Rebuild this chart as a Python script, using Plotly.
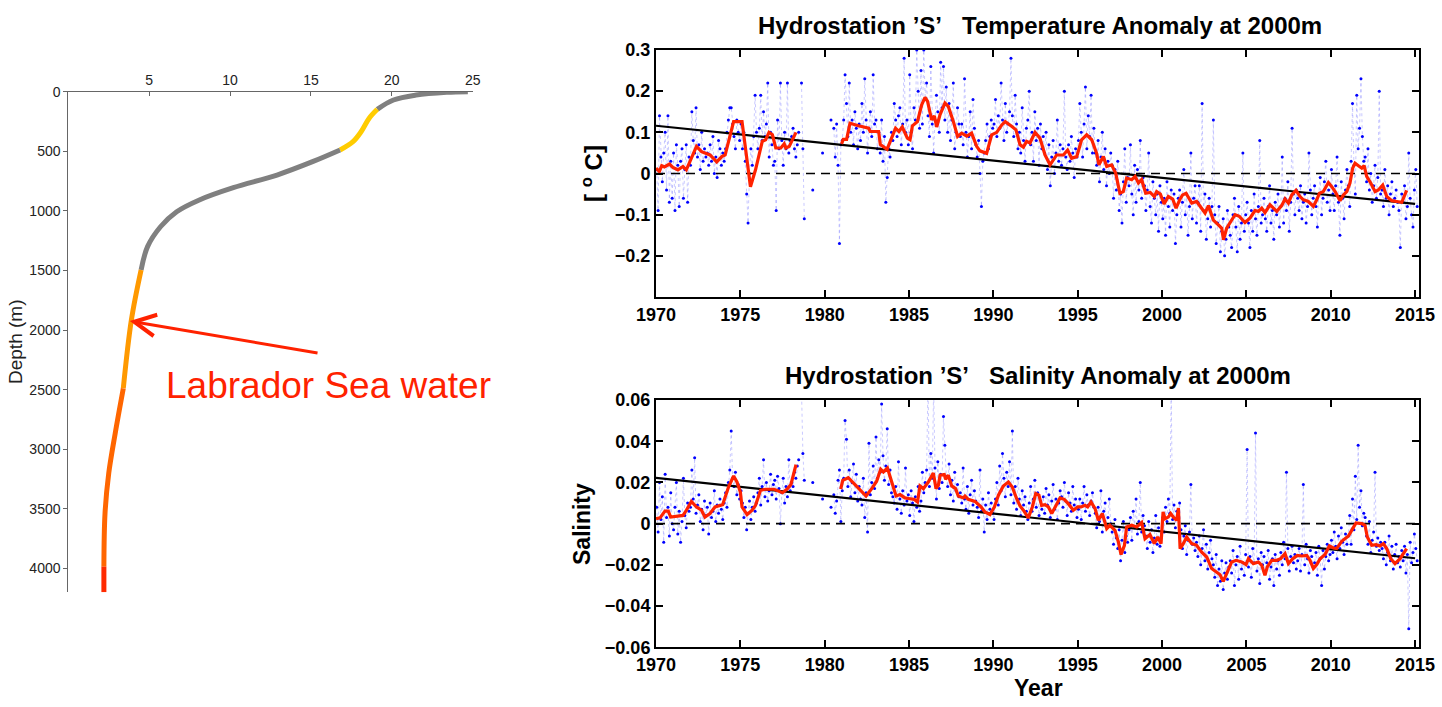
import plotly.graph_objects as go

# ---------------- Left panel: temperature profile ----------------
profile_depth = [0, 5, 28, 70, 148, 223, 336, 419, 489, 587, 699, 805, 908, 1007,
                 1133, 1300, 1496, 1915, 2489, 2866, 3201, 3537, 3985, 4200]
profile_temp = [24.7, 23.4, 21.5, 20.1, 19.1, 18.6, 18.1, 17.6, 16.8, 15.1, 12.9, 10.2,
                8.1, 6.7, 5.7, 4.9, 4.5, 3.9, 3.4, 2.9, 2.5, 2.27, 2.2, 2.2]
segment_bounds = [0, 148, 489, 1496, 2489, 3985, 4200]
segment_colors = ["#808080", "#FFCC00", "#808080", "#FF9900", "#FF6600", "#FF2A00"]
profile_xticks = [5, 10, 15, 20, 25]
profile_yticks = [0, 500, 1000, 1500, 2000, 2500, 3000, 3500, 4000]
arrow_head = (3.8, 1924)
arrow_tail = (15.5, 2195)
label_text = "Labrador Sea water"

# ---------------- Right panels: anomalies at 2000 m ----------------
start_year = 1970
samples_per_year = 12
temp_rows = [
    [0.01, -0.09, 0.14, 0.04, -0.02, 0.05, 0.10, -0.04, 0.14, -0.07, 0.03, -0.06],  # 1970
    [0.05, -0.09, 0.07, 0.02, -0.08, 0.03, 0.06, -0.06, 0.01, 0.07, -0.07, 0.04],
    [0.02, 0.15, 0.08, 0.05, 0.16, 0.04, 0.07, 0.01, 0.10, 0.03, 0.06, 0.04],
    [0.05, 0.02, 0.07, 0.03, 0.09, 0.00, 0.04, -0.01, 0.08, 0.06, 0.02, 0.05],
    [0.03, 0.06, 0.10, 0.13, 0.16, 0.16, 0.12, 0.09, 0.06, 0.13, 0.10, 0.08],
    [0.12, 0.06, 0.10, 0.03, -0.05, -0.12, 0.00, 0.06, 0.02, 0.09, 0.19, 0.10],  # 1975
    [0.06, 0.11, 0.19, 0.08, 0.15, 0.09, 0.12, 0.22, 0.04, 0.10, 0.07, 0.02],
    [0.03, -0.09, 0.13, 0.06, 0.22, 0.08, 0.02, 0.10, 0.06, 0.22, 0.05, 0.08],
    [0.09, 0.11, 0.06, 0.04, 0.07, 0.10, None, 0.22, 0.06, -0.11, None, None],
    [None, None, None, -0.04, None, None, None, None, None, None, 0.05, None],
    [None, None, None, None, 0.13, None, 0.11, 0.04, 0.12, 0.02, -0.17, 0.07],  # 1980
    [0.08, 0.13, 0.24, 0.17, 0.09, 0.22, 0.10, 0.13, 0.07, 0.15, 0.11, 0.06],
    [0.12, 0.08, 0.17, 0.10, 0.23, 0.13, 0.05, 0.11, 0.15, 0.09, 0.24, 0.12],
    [0.13, 0.06, 0.10, 0.05, 0.13, 0.03, 0.09, -0.07, -0.01, 0.06, 0.04, 0.10],
    [0.08, 0.17, 0.13, 0.09, 0.14, 0.16, 0.07, 0.12, 0.28, 0.10, 0.13, 0.07],
    [0.24, 0.10, 0.06, 0.16, 0.13, 0.30, 0.20, 0.11, 0.25, 0.12, 0.30, 0.18],  # 1985
    [0.22, 0.14, 0.09, 0.26, 0.12, 0.05, 0.13, 0.19, 0.15, 0.10, 0.27, 0.16],
    [0.26, 0.13, 0.21, 0.10, 0.17, 0.08, 0.13, 0.22, 0.06, 0.10, 0.16, 0.12],
    [0.09, 0.12, 0.07, 0.23, 0.10, 0.04, 0.09, 0.15, 0.06, 0.18, 0.11, 0.07],
    [0.04, 0.08, 0.00, -0.08, 0.03, 0.05, 0.08, 0.12, 0.06, 0.09, 0.13, 0.11],
    [0.12, 0.18, 0.09, 0.14, 0.11, 0.22, 0.13, 0.08, 0.17, 0.10, 0.12, 0.15],  # 1990
    [0.28, 0.14, 0.09, 0.19, 0.12, 0.06, 0.10, 0.05, 0.16, 0.08, 0.03, 0.11],
    [0.13, 0.20, 0.07, 0.10, 0.03, 0.15, 0.08, 0.11, 0.02, 0.12, 0.06, 0.09],
    [0.05, 0.10, 0.01, 0.07, -0.03, 0.04, 0.08, 0.00, 0.05, 0.13, 0.03, 0.07],
    [0.02, 0.06, 0.20, 0.04, 0.01, 0.07, 0.03, 0.09, 0.05, -0.01, 0.06, 0.04],
    [0.08, 0.17, 0.10, 0.04, 0.12, 0.21, 0.06, 0.14, 0.09, 0.19, 0.05, 0.11],  # 1995
    [0.05, 0.02, 0.08, -0.02, 0.04, 0.10, 0.01, 0.06, -0.03, 0.03, 0.00, 0.05],
    [0.02, -0.06, 0.01, -0.04, 0.03, -0.09, -0.05, -0.12, -0.02, 0.06, -0.07, -0.01],
    [-0.03, 0.07, -0.05, -0.10, 0.02, -0.07, 0.01, -0.04, 0.08, -0.06, -0.01, -0.03],
    [-0.09, -0.04, 0.05, -0.08, -0.12, -0.02, -0.06, -0.10, -0.05, -0.14, -0.03, -0.07],
    [-0.11, -0.06, -0.15, -0.02, -0.08, -0.13, -0.04, -0.09, -0.05, -0.17, -0.10, -0.06],  # 2000
    [-0.04, -0.13, -0.07, 0.01, -0.10, -0.05, -0.15, -0.08, 0.05, -0.11, -0.06, -0.03],
    [-0.12, -0.07, -0.03, -0.14, 0.17, -0.09, -0.05, -0.16, -0.11, -0.06, -0.13, -0.08],
    [0.13, -0.10, -0.17, -0.12, -0.08, -0.19, -0.14, -0.11, -0.20, -0.16, -0.09, -0.13],
    [-0.15, -0.18, -0.10, -0.06, -0.13, -0.19, -0.08, -0.16, -0.12, 0.05, -0.14, -0.10],
    [-0.07, -0.12, -0.18, -0.09, -0.14, -0.05, -0.11, -0.15, -0.08, 0.08, -0.12, -0.10],  # 2005
    [-0.06, -0.11, -0.14, -0.08, -0.03, -0.12, -0.09, -0.16, -0.07, -0.10, -0.05, -0.13],
    [-0.08, 0.04, -0.12, -0.06, -0.09, -0.02, -0.14, -0.07, 0.11, -0.05, -0.10, -0.04],
    [-0.06, -0.09, -0.03, -0.11, -0.07, -0.05, -0.12, -0.08, 0.05, -0.04, -0.10, -0.06],
    [-0.03, -0.08, -0.13, -0.05, -0.01, -0.10, -0.06, -0.02, 0.03, -0.07, -0.04, -0.09],
    [0.01, -0.05, -0.09, -0.03, 0.04, -0.07, -0.15, -0.02, -0.06, -0.11, -0.04, 0.01],  # 2010
    [-0.03, -0.08, 0.03, 0.17, 0.02, -0.05, 0.19, 0.06, 0.11, 0.23, 0.09, 0.03],
    [0.04, -0.02, 0.06, -0.04, 0.00, -0.07, -0.03, 0.02, -0.06, -0.01, 0.20, -0.05],
    [-0.04, -0.08, 0.01, -0.06, -0.03, -0.10, -0.05, -0.02, -0.08, -0.06, -0.04, -0.07],
    [-0.09, -0.18, -0.05, -0.07, -0.03, -0.11, -0.08, 0.05, -0.06, -0.10, -0.13, -0.04],
    [0.01, -0.08],  # 2015
]
sal_rows = [
    [0.008, -0.004, 0.020, 0.002, 0.013, -0.009, 0.024, 0.003, 0.008, -0.006, 0.015, 0.000],  # 1970
    [-0.003, 0.008, 0.020, -0.005, 0.006, -0.009, 0.001, 0.022, 0.004, -0.002, 0.010, 0.006],
    [0.008, 0.026, 0.012, 0.032, 0.005, 0.009, 0.014, 0.001, 0.007, -0.003, 0.011, 0.004],
    [0.008, -0.005, 0.010, 0.003, 0.006, 0.016, 0.001, 0.009, 0.005, 0.012, 0.007, 0.002],
    [0.010, 0.015, 0.008, 0.020, 0.026, 0.045, 0.022, 0.018, 0.025, 0.014, 0.019, 0.012],
    [0.016, 0.010, 0.003, 0.008, -0.003, 0.005, 0.011, 0.002, 0.008, 0.013, 0.006, 0.010],  # 1975
    [0.015, 0.022, 0.009, 0.018, 0.031, 0.013, 0.020, 0.011, 0.016, 0.024, 0.014, 0.019],
    [0.021, 0.012, 0.023, 0.017, 0.000, 0.015, 0.022, 0.010, 0.018, 0.013, 0.031, 0.016],
    [0.020, 0.018, 0.025, 0.022, 0.028, 0.031, None, 0.065, 0.034, 0.021, None, None],
    [None, None, None, 0.020, None, None, None, None, None, None, 0.012, None],
    [None, None, None, None, 0.008, None, 0.014, 0.005, 0.011, 0.021, 0.026, 0.001],  # 1980
    [0.016, 0.022, 0.050, 0.041, 0.018, 0.026, 0.013, 0.020, 0.029, 0.015, 0.024, 0.011],
    [0.018, 0.012, 0.009, 0.022, 0.003, 0.015, -0.004, 0.039, 0.014, 0.020, 0.028, 0.017],
    [0.042, 0.022, 0.031, 0.025, 0.058, 0.033, 0.021, 0.028, 0.046, 0.019, 0.026, 0.015],
    [0.013, 0.010, 0.018, 0.007, 0.030, 0.012, 0.005, 0.016, 0.009, 0.027, 0.011, 0.014],
    [0.004, 0.016, 0.010, 0.001, 0.013, 0.008, 0.018, 0.006, 0.011, 0.025, 0.015, 0.020],  # 1985
    [0.026, 0.068, 0.018, 0.034, 0.022, 0.066, 0.027, 0.012, 0.030, 0.017, 0.024, 0.020],
    [0.052, 0.038, 0.023, 0.018, 0.029, 0.014, 0.021, 0.011, 0.025, 0.016, 0.019, 0.013],
    [0.015, 0.010, 0.027, 0.012, 0.007, 0.018, 0.005, 0.014, 0.021, 0.009, 0.016, 0.011],
    [0.008, 0.003, 0.026, 0.006, 0.012, -0.004, 0.009, 0.002, 0.015, 0.007, 0.010, 0.005],
    [0.002, 0.012, 0.020, 0.009, 0.028, 0.016, 0.034, 0.022, 0.013, 0.025, 0.018, 0.030],  # 1990
    [0.014, 0.045, 0.010, 0.018, 0.007, 0.022, 0.012, 0.004, 0.016, 0.009, 0.013, 0.006],
    [0.002, 0.010, 0.018, 0.006, 0.012, 0.021, 0.008, 0.015, 0.004, 0.011, 0.007, 0.013],
    [0.005, 0.017, 0.009, 0.014, 0.003, 0.011, 0.019, 0.007, 0.012, 0.002, 0.010, 0.016],
    [0.013, 0.008, 0.020, 0.011, 0.004, 0.015, 0.010, 0.006, 0.018, 0.009, 0.012, 0.003],
    [0.007, 0.012, 0.002, 0.010, 0.018, 0.006, 0.014, 0.009, 0.004, 0.011, 0.015, 0.008],  # 1995
    [0.005, -0.002, 0.008, 0.001, 0.016, -0.004, 0.006, 0.010, -0.001, 0.003, 0.012, 0.000],
    [-0.004, -0.010, 0.002, -0.007, -0.012, -0.003, -0.018, -0.008, 0.001, -0.014, -0.006, -0.009],
    [-0.003, 0.003, -0.008, 0.006, -0.002, 0.012, -0.005, 0.001, 0.020, -0.004, 0.004, -0.001],
    [-0.006, -0.012, 0.001, -0.009, -0.003, -0.014, -0.007, 0.004, -0.010, -0.002, -0.011, -0.005],
    [0.003, -0.004, 0.008, 0.001, 0.012, 0.005, 0.065, 0.002, 0.009, -0.002, 0.006, 0.004],  # 2000
    [0.010, -0.003, -0.012, -0.006, -0.001, -0.015, -0.008, -0.004, 0.019, -0.010, -0.007, -0.013],
    [-0.009, -0.016, -0.006, -0.020, -0.012, -0.003, -0.018, -0.010, -0.022, -0.014, -0.008, -0.017],
    [-0.020, -0.026, -0.015, -0.030, -0.022, -0.028, -0.018, -0.032, -0.024, -0.019, -0.027, -0.021],
    [-0.018, -0.024, -0.013, -0.030, -0.020, -0.016, -0.027, -0.011, -0.022, -0.019, -0.025, -0.015],
    [0.036, -0.021, -0.016, -0.026, -0.012, -0.019, 0.044, -0.023, -0.017, -0.029, -0.014, -0.020],  # 2005
    [-0.016, -0.024, -0.019, -0.013, -0.027, -0.021, -0.017, -0.030, -0.015, -0.022, -0.018, -0.025],
    [-0.014, -0.020, -0.009, -0.017, 0.025, -0.012, -0.023, -0.016, -0.011, -0.019, -0.015, -0.022],
    [-0.018, -0.012, -0.023, -0.015, 0.019, -0.020, -0.010, -0.017, -0.024, -0.013, -0.016, -0.021],
    [-0.019, -0.014, -0.025, -0.011, -0.017, -0.030, -0.013, -0.022, -0.016, -0.010, -0.018, -0.015],
    [-0.008, -0.014, -0.004, -0.011, -0.017, -0.006, -0.012, -0.002, -0.009, -0.015, -0.005, -0.010],  # 2010
    [-0.006, 0.004, -0.010, 0.012, -0.003, 0.023, 0.002, 0.038, 0.008, 0.016, -0.001, 0.005],
    [0.003, -0.006, -0.010, 0.001, -0.014, -0.008, -0.004, 0.025, -0.011, -0.007, -0.013, -0.009],
    [-0.012, -0.017, -0.009, -0.020, -0.014, -0.006, -0.018, -0.011, -0.022, -0.015, -0.010, -0.019],
    [-0.016, -0.021, -0.013, -0.018, -0.011, -0.024, -0.015, -0.051, -0.009, -0.019, -0.014, -0.005],
    [-0.012, -0.018],  # 2015
]

temp_mean_year = [1970.0, 1970.2, 1970.34, 1970.5, 1970.8, 1971.0, 1971.3, 1971.6, 1971.8, 1972.1,
                  1972.4, 1972.7, 1973.2, 1973.6, 1973.9, 1974.1, 1974.4, 1974.6, 1975.1, 1975.3,
                  1975.6, 1975.9, 1976.3, 1976.5, 1976.7, 1976.9, 1977.1, 1977.4, 1977.6, 1977.7,
                  1977.9, 1978.3, 1979.6,
                  1981.0, 1981.1, 1981.3, 1981.5, 1982.0, 1982.6, 1982.7, 1983.2, 1983.3, 1983.7,
                  1984.2, 1984.4, 1984.6, 1984.9, 1985.06, 1985.2, 1985.5, 1985.75, 1985.95, 1986.1,
                  1986.34, 1986.5, 1986.64, 1986.84, 1987.13, 1987.33, 1987.63, 1987.88, 1988.12,
                  1988.42, 1988.71, 1989.01, 1989.2, 1989.6, 1989.9, 1990.2, 1990.5, 1990.7, 1991.1,
                  1991.34, 1991.58, 1991.78, 1991.97, 1992.17, 1992.47, 1992.76, 1993.06, 1993.36,
                  1993.75, 1994.15, 1994.4, 1994.64, 1994.94, 1995.23, 1995.53, 1995.83, 1996.12,
                  1996.26, 1996.52, 1996.72, 1997.01, 1997.25, 1997.5, 1997.7, 1997.9, 1998.2,
                  1998.4, 1998.6, 1998.79, 1999.03, 1999.3, 1999.54, 1999.68, 1999.9, 2000.12,
                  2000.37, 2000.63, 2000.83, 2001.07, 2001.22, 2001.42, 2001.76, 2002.05, 2002.35,
                  2002.55, 2002.75, 2003.04, 2003.34, 2003.54, 2003.64, 2003.83, 2004.13, 2004.33,
                  2004.58, 2004.92, 2005.22, 2005.51, 2005.71, 2005.91, 2006.1, 2006.4, 2006.8,
                  2007.09, 2007.29, 2007.49, 2007.69, 2007.94, 2008.18, 2008.38, 2008.67, 2008.97,
                  2009.17, 2009.33, 2009.56, 2009.86, 2010.06, 2010.26, 2010.55, 2010.75, 2010.95,
                  2011.14, 2011.3, 2011.44, 2011.64, 2011.84, 2011.98, 2012.13, 2012.37, 2012.63,
                  2012.82, 2013.08, 2013.32, 2013.62, 2013.91, 2014.21, 2014.5]
temp_mean = [0.013, 0.005, 0.019, 0.016, 0.023, 0.015, 0.009, 0.017, 0.009, 0.037,
             0.066, 0.053, 0.045, 0.028, 0.041, 0.045, 0.09, 0.126, 0.126, 0.057,
             -0.032, 0.009, 0.078, 0.082, 0.1, 0.094, 0.062, 0.062, 0.072, 0.062,
             0.066, 0.1, None,
             0.072, 0.083, 0.083, 0.122, 0.116, 0.11, 0.102, 0.102, 0.07, 0.059,
             0.11, 0.102, 0.113, 0.086, 0.082, 0.116, 0.126, 0.167, 0.185, 0.175,
             0.13, 0.14, 0.113, 0.143, 0.171, 0.163, 0.126, 0.09, 0.098,
             0.091, 0.098, 0.066, 0.055, 0.049, 0.094, 0.1, 0.118, 0.126, 0.114,
             0.106, 0.07, 0.064, 0.078, 0.074, 0.1, 0.086, 0.045, 0.021,
             0.045, 0.045, 0.057, 0.037, 0.041, 0.082, 0.094, 0.082, 0.049,
             0.021, 0.041, 0.017, 0.021, 0.001, -0.048, -0.044, -0.011, -0.015,
             -0.007, -0.023, -0.015, -0.048, -0.046, -0.056, -0.044, -0.05, -0.074,
             -0.056, -0.062, -0.084, -0.062, -0.052, -0.048, -0.072, -0.068, -0.084,
             -0.096, -0.078, -0.113, -0.125, -0.133, -0.161, -0.133, -0.113, -0.1,
             -0.104, -0.119, -0.108, -0.09, -0.092, -0.084, -0.095, -0.076, -0.092,
             -0.078, -0.062, -0.072, -0.052, -0.041, -0.056, -0.064, -0.068, -0.08,
             -0.064, -0.048, -0.044, -0.022, -0.032, -0.044, -0.066, -0.052, -0.044,
             -0.023, 0.013, 0.025, 0.019, 0.013, 0.019, -0.007, -0.023, -0.044,
             -0.04, -0.028, -0.056, -0.066, -0.068, -0.07, -0.041]

sal_mean_year = [1970.0, 1970.24, 1970.53, 1970.73, 1970.87, 1971.2, 1971.6, 1971.8, 1972.1, 1972.4,
                 1972.7, 1972.9, 1973.2, 1973.5, 1973.95, 1974.3, 1974.6, 1974.8, 1975.0, 1975.1,
                 1975.4, 1975.7, 1975.9, 1976.2, 1976.5, 1977.0, 1977.3, 1977.5, 1977.8, 1978.0,
                 1978.3, 1979.6,
                 1980.95, 1981.07, 1981.4, 1981.9, 1982.45, 1982.79, 1983.08, 1983.32, 1983.48,
                 1983.72, 1983.97, 1984.23, 1984.47, 1984.76, 1985.06, 1985.3, 1985.5, 1985.65,
                 1985.85, 1986.14, 1986.44, 1986.6, 1986.74, 1986.84, 1987.09, 1987.17, 1987.33,
                 1987.53, 1987.76, 1987.92, 1988.22, 1988.32, 1988.51, 1988.91, 1989.27, 1989.5,
                 1989.8, 1990.06, 1990.3, 1990.59, 1990.89, 1991.12, 1991.38, 1991.58, 1991.78,
                 1992.07, 1992.31, 1992.51, 1992.7, 1992.86, 1993.06, 1993.26, 1993.46, 1993.65,
                 1993.95, 1994.2, 1994.44, 1994.74, 1995.0, 1995.2, 1995.43, 1995.59, 1995.79,
                 1996.03, 1996.22, 1996.46, 1996.72, 1996.91, 1997.21, 1997.41, 1997.57, 1997.77,
                 1997.9, 1998.2, 1998.5, 1998.79, 1998.99, 1999.28, 1999.54, 1999.74, 1999.94,
                 2000.06, 2000.18, 2000.37, 2000.51, 2000.71, 2000.87, 2000.97, 2001.07, 2001.26,
                 2001.46, 2001.76, 2002.05, 2002.35, 2002.65, 2002.94, 2003.24, 2003.44, 2003.63,
                 2003.83, 2004.13, 2004.39, 2004.72, 2004.98, 2005.12, 2005.41, 2005.71, 2005.91,
                 2006.1, 2006.24, 2006.5, 2006.8, 2007.03, 2007.29, 2007.49, 2007.75, 2008.02,
                 2008.28, 2008.58, 2008.77, 2008.97, 2009.17, 2009.37, 2009.66, 2009.92, 2010.16,
                 2010.35, 2010.65, 2010.85, 2011.05, 2011.3, 2011.5, 2011.84, 2012.03, 2012.17,
                 2012.43, 2012.69, 2012.92, 2013.12, 2013.32, 2013.56, 2013.81, 2014.11, 2014.5]
sal_mean = [0.0024, 0.0028, 0.0061, 0.0061, 0.0032, 0.0037, 0.004, 0.0065, 0.0108, 0.0081,
            0.0065, 0.0032, 0.0049, 0.0081, 0.0092, 0.0178, 0.0231, 0.0202, 0.0154, 0.0081,
            0.0044, 0.0065, 0.0089, 0.0162, 0.0167, 0.0167, 0.0157, 0.015, 0.017, 0.019,
            0.0286, None,
            0.0167, 0.021, 0.0223, 0.0178, 0.0134, 0.017, 0.0206, 0.0264, 0.0251,
            0.027, 0.0202, 0.0134, 0.0141, 0.0125, 0.0121, 0.0118, 0.0105, 0.0183,
            0.017, 0.0202, 0.0246, 0.017, 0.0186, 0.0235, 0.0238, 0.0215, 0.0235,
            0.0183, 0.017, 0.0134, 0.0125, 0.0134, 0.0118, 0.0108, 0.0081, 0.0057,
            0.0044, 0.0081, 0.0138, 0.0183, 0.0202, 0.0178, 0.0121, 0.0086, 0.0065,
            0.0028, 0.0081, 0.0146, 0.0138, 0.0089, 0.0092, 0.0081, 0.0049, 0.0081,
            0.0125, 0.0118, 0.0097, 0.0065, 0.0081, 0.0081, 0.0089, 0.0081, 0.0105,
            0.0073, 0.0016, 0.0049, -0.0024, -0.0008, -0.0032, -0.0089, -0.015, -0.0105,
            -0.0016, -0.0008, -0.0016, 0.0005, -0.0073, -0.0053, -0.0097, -0.0065, -0.0097,
            0.0057, 0.0024, 0.0032, 0.0049, 0.0028, 0.0016, 0.0076, -0.0121, -0.0097,
            -0.0065, -0.0097, -0.0105, -0.0138, -0.0162, -0.0218, -0.0235, -0.0248, -0.028,
            -0.0243, -0.0186, -0.0178, -0.0186, -0.0199, -0.017, -0.0194, -0.0186, -0.0202,
            -0.0251, -0.021, -0.0178, -0.0178, -0.017, -0.0146, -0.0194, -0.017, -0.0154,
            -0.0157, -0.0154, -0.0178, -0.0218, -0.0199, -0.017, -0.015, -0.0108, -0.0118,
            -0.0121, -0.0086, -0.0073, -0.006, -0.0024, 0.0003, 0.0, -0.0008, -0.0065,
            -0.0105, -0.0102, -0.0108, -0.0097, -0.0121, -0.017, -0.0194, -0.017, -0.0121]

trend_year = [1970, 2015]
temp_trend = [0.116, -0.074]
sal_trend = [0.0222, -0.0168]
zero_year = [1970, 2015.25]
zero_val = [0, 0]
year_ticks = [1970, 1975, 1980, 1985, 1990, 1995, 2000, 2005, 2010, 2015]
temp_ticks = [-0.2, -0.1, 0, 0.1, 0.2, 0.3]
sal_ticks = [-0.06, -0.04, -0.02, 0, 0.02, 0.04, 0.06]

temp_title = "Hydrostation \u2019S\u2019\u00a0\u00a0 Temperature Anomaly at 2000m"
sal_title = "Hydrostation \u2019S\u2019\u00a0\u00a0 Salinity Anomaly at 2000m"

# ---------------- build figure ----------------
W, H = 1442, 707
FONT = "Liberation Sans, Arial, Helvetica, sans-serif"
RED = "#FF2200"


def px_x(p):
    return p / W


def px_y(p):
    return 1 - p / H


def expand(rows):
    xs, ys = [], []
    for r, row in enumerate(rows):
        for i, v in enumerate(row):
            xs.append(start_year + r + (i + 0.5) / samples_per_year)
            ys.append(v)
    return xs, ys


fig = go.Figure()

# profile segments
for k, col in enumerate(segment_colors):
    lo, hi = segment_bounds[k], segment_bounds[k + 1]
    seg_d = [d for d in profile_depth if lo <= d <= hi]
    seg_t = [t for t, d in zip(profile_temp, profile_depth) if lo <= d <= hi]
    fig.add_trace(go.Scatter(x=seg_t, y=seg_d, mode="lines", xaxis="x", yaxis="y",
                             line=dict(color=col, width=5, shape="spline"),
                             hoverinfo="skip"))

for rows, trend, mean_y, mean_v, ax in [
    (temp_rows, temp_trend, temp_mean_year, temp_mean, "2"),
    (sal_rows, sal_trend, sal_mean_year, sal_mean, "3"),
]:
    bx, by = expand(rows)
    fig.add_trace(go.Scatter(x=bx, y=by, mode="lines+markers", xaxis="x" + ax, yaxis="y" + ax,
                             line=dict(color="rgba(100,100,255,0.35)", width=1, dash="dot"),
                             marker=dict(color="#0000FF", size=3), connectgaps=False))
    fig.add_trace(go.Scatter(x=zero_year, y=zero_val, mode="lines", xaxis="x" + ax, yaxis="y" + ax,
                             line=dict(color="black", width=1.6, dash="9px,6px")))
    fig.add_trace(go.Scatter(x=trend_year, y=trend, mode="lines", xaxis="x" + ax, yaxis="y" + ax,
                             line=dict(color="black", width=2.2)))
    fig.add_trace(go.Scatter(x=mean_y, y=mean_v, mode="lines", xaxis="x" + ax, yaxis="y" + ax,
                             line=dict(color=RED, width=3.2), connectgaps=False))

tick_font_small = dict(family=FONT, size=14, color="#222")
bold_tick = dict(family=FONT, size=18, color="black", weight="bold")

right_x = dict(domain=[px_x(656), px_x(1419.3)], range=[1970, 2015.25], tickvals=year_ticks,
               ticks="inside", ticklen=7, tickwidth=1.5, tickcolor="black", showline=True,
               linecolor="black", linewidth=2, mirror="ticks", showgrid=False, zeroline=False,
               tickfont=bold_tick, automargin=False)
right_y = dict(ticks="inside", ticklen=7, tickwidth=1.5, tickcolor="black", showline=True,
               linecolor="black", linewidth=2, mirror="ticks", showgrid=False, zeroline=False,
               tickfont=bold_tick, automargin=False)

fig.update_layout(
    width=W, height=H, margin=dict(l=0, r=0, t=0, b=0, autoexpand=False),
    paper_bgcolor="white", plot_bgcolor="white", showlegend=False,
    xaxis=dict(domain=[px_x(68.3), px_x(472.7)], range=[0, 25], side="top", anchor="y",
               tickvals=profile_xticks, ticks="inside", ticklen=4, tickcolor="#666",
               showline=True, linecolor="#666", linewidth=1, showgrid=False, zeroline=False,
               tickfont=tick_font_small, automargin=False),
    yaxis=dict(domain=[px_y(592.3), px_y(91.7)], range=[4200, 0], anchor="x",
               tickvals=profile_yticks, ticks="outside", ticklen=4, tickcolor="#666",
               showline=True, linecolor="#666", linewidth=1, showgrid=False, zeroline=False,
               tickfont=tick_font_small, automargin=False),
    xaxis2=dict(right_x, anchor="y2"),
    yaxis2=dict(right_y, domain=[px_y(297), px_y(50)], range=[-0.3, 0.3], tickvals=temp_ticks,
                anchor="x2"),
    xaxis3=dict(right_x, anchor="y3"),
    yaxis3=dict(right_y, domain=[px_y(647.3), px_y(400)], range=[-0.06, 0.06], tickvals=sal_ticks,
                anchor="x3"),
)


def label(x, y, text, size, color="black", bold=False, angle=0, xanchor="center"):
    f = dict(family=FONT, size=size, color=color)
    if bold:
        f["weight"] = "bold"
    return dict(x=px_x(x), y=px_y(y), xref="paper", yref="paper", text=text, showarrow=False,
                xanchor=xanchor, yanchor="middle", textangle=angle, font=f)


ann = [
    dict(x=arrow_head[0], y=arrow_head[1], ax=arrow_tail[0], ay=arrow_tail[1], xref="x", yref="y",
         axref="x", ayref="y", showarrow=True, arrowhead=5, arrowsize=1.4, arrowwidth=3,
         arrowcolor=RED, text=""),
    label(164, 385, label_text, 37, color=RED, xanchor="left"),
    label(15, 342, "Depth (m)", 19, color="#222", angle=-90),
    label(1040, 25, temp_title, 24, bold=True),
    label(1038, 375, sal_title, 24, bold=True),
    label(592, 174, "[ <sup>o</sup> C]", 24, bold=True, angle=-90),
    label(582, 524, "Salinity", 23, bold=True, angle=-90),
    label(1038, 688, "Year", 23, bold=True),
]
fig.update_layout(annotations=ann)

fig.write_html("out.html")
